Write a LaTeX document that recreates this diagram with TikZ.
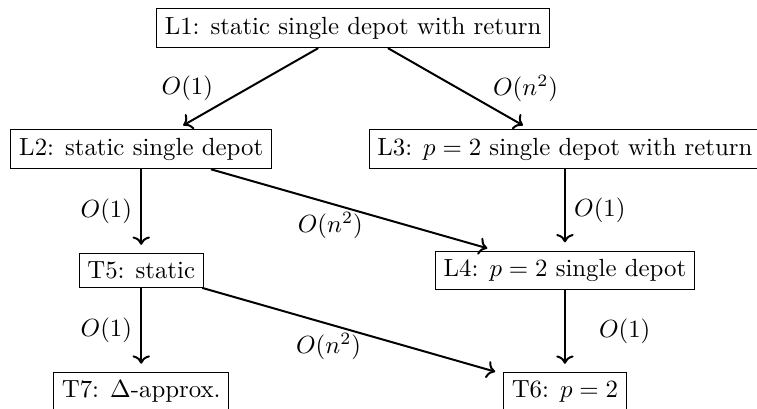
\documentclass[tikz,border=0pt]{standalone}
\usepackage{amsmath, amssymb}
\usepackage{tikz}
\usetikzlibrary{arrows.meta, positioning}

\begin{document}
\begin{tikzpicture}[on grid,
    stage/.style={draw, inner sep=3.33pt},
    flow/.style={->, thick, shorten >=3.3pt}]
  \useasboundingbox (-5,0.4) rectangle (5.72,-5.38);
  \node[stage] (l1) at (0,0) {L1: static single depot with return};
  \node[stage, below left=1.715cm and 3cm of l1] (l2) {L2: static single depot};
  \node[stage, below right=1.715cm and 3cm of l1] (l3) {L3: $p=2$ single depot with return};
  \node[stage, below=1.715cm of l2] (t5) {T5: static};
  \node[stage, below=1.715cm of l3] (l4) {L4: $p=2$ single depot};
  \node[stage, below=1.715cm of t5] (t7) {T7: $\Delta$-approx.};
  \node[stage, below=1.715cm of l4] (t6) {T6: $p=2$};
  % reductions
  \draw[flow] (l1)--node[left=1em]{$O(1)$}(l2);
  \draw[flow] (l1)--node[right=1em]{$O(n^2)$}(l3);
  \draw[flow] (l2)--node[left]{$O(1)$}(t5);
  \draw[flow] (l2)--node[below, pos=0.42]{$O(n^2)$}(l4);
  \draw[flow] (l3)--node[right]{$O(1)$}(l4);
  \draw[flow] (t5)--node[left]{$O(1)$}(t7);
  \draw[flow] (t5)--node[below, pos=0.42]{$O(n^2)$}(t6);
  \draw[flow] (l4)--node[right=1em]{$O(1)$}(t6);
\end{tikzpicture}
\end{document}
